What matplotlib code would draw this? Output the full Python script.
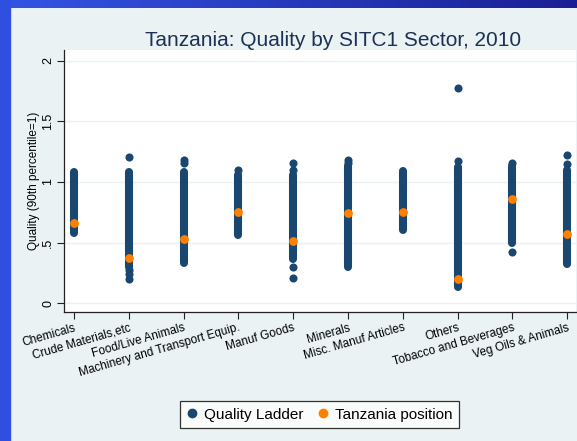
import numpy as np
import matplotlib.pyplot as plt
from matplotlib.colors import LinearSegmentedColormap
from matplotlib.lines import Line2D
from matplotlib.patches import Rectangle

plt.rcParams['font.family'] = ['Liberation Sans', 'DejaVu Sans']

# Sectors (SITC1)
sectors = ["Chemicals", "Crude Materials,etc", "Food/Live Animals",
           "Machinery and Transport Equip.", "Manuf Goods", "Minerals",
           "Misc. Manuf Articles", "Others", "Tobacco and Beverages",
           "Veg Oils & Animals"]

# dense part of each quality ladder (low / high end)
ladder_lo = [0.58, 0.30, 0.33, 0.56, 0.36, 0.30, 0.60, 0.13, 0.50, 0.32]
ladder_hi = [1.08, 1.08, 1.08, 1.06, 1.06, 1.13, 1.09, 1.12, 1.13, 1.10]

# isolated products outside the dense part
extra_pts = [
    [],
    [1.21, 0.27, 0.24, 0.20],
    [1.18, 1.16],
    [1.10],
    [1.16, 1.10, 0.30, 0.21],
    [1.18, 1.16],
    [],
    [1.78, 1.17],
    [1.16, 0.42],
    [1.22, 1.15],
]

# Tanzania's position in each sector
tanzania = [0.66, 0.37, 0.53, 0.75, 0.51, 0.74, 0.75, 0.20, 0.86, 0.57]

navy = "#1a476f"
orange = "#ff8000"
panel = "#eaf2f3"

W, H = 577, 441
fig = plt.figure(figsize=(W / 100, H / 100), dpi=100)
fig.patch.set_facecolor(panel)

# blue frame: gradient band on top, plain band on the left
band = fig.add_axes([0, 1 - 8 / H, 1, 8 / H])
cmap = LinearSegmentedColormap.from_list("band", ["#3355e4", "#1b1f94"])
band.imshow(np.linspace(0, 1, 256)[None, :], aspect="auto", cmap=cmap)
band.set_axis_off()
fig.patches.append(Rectangle((0, 0), 9.5 / W, 1, transform=fig.transFigure,
                             color="#2f4fe0", zorder=0))

ax = fig.add_axes([64 / W, 1 - 312 / H, 512 / W, 262 / H])
ax.set_facecolor("white")

x = np.arange(1, len(sectors) + 1)
ax.vlines(x, ladder_lo, ladder_hi, colors=navy, lw=5.8, capstyle="round", zorder=2)
for xi, pts in zip(x, extra_pts):
    if pts:
        ax.scatter([xi] * len(pts), pts, s=34, color=navy, lw=0, zorder=2)
ax.scatter(x, tanzania, s=40, color=orange, lw=0, zorder=3)

ax.set_xlim(0.8175, 10.16)
ax.set_ylim(-0.074, 2.09)

ax.set_yticks([0, 0.5, 1, 1.5, 2])
ax.set_yticklabels(["0", ".5", "1", "1.5", "2"], rotation=90, va="center", fontsize=9)
ax.set_xticks(x)
ax.set_xticklabels(sectors, rotation=16, ha="right", va="top",
                   rotation_mode="anchor", fontsize=8.5)
ax.tick_params(axis="both", length=5, width=0.8, color="#222222", pad=2)

ax.grid(axis="y", color=panel, lw=1)
ax.set_axisbelow(True)
for s in ["top", "right"]:
    ax.spines[s].set_visible(False)
for s in ["left", "bottom"]:
    ax.spines[s].set_color("#222222")
    ax.spines[s].set_linewidth(0.9)

fig.text(34 / W, 1 - 181 / H, "Quality (90th percentile=1)", rotation=90,
         ha="center", va="center", fontsize=8.5)
fig.text(333 / W, 1 - 46 / H, "Tanzania: Quality by SITC1 Sector, 2010",
         ha="center", va="baseline", fontsize=15, color="#1c3154")

handles = [Line2D([], [], ls="", marker="o", ms=6, mfc=navy, mec=navy),
           Line2D([], [], ls="", marker="o", ms=6, mfc=orange, mec=orange)]
leg = fig.legend(handles, ["Quality Ladder", "Tanzania position"], ncol=2,
                 loc="center", bbox_to_anchor=(319.5 / W, 1 - 414.5 / H),
                 fontsize=11, frameon=True, fancybox=False, edgecolor="black",
                 handlelength=0.7, handletextpad=0.45, columnspacing=0.9,
                 borderpad=0.4, borderaxespad=0)
leg.get_frame().set_linewidth(0.9)

fig.savefig("out.png", dpi=100, facecolor=fig.get_facecolor())
